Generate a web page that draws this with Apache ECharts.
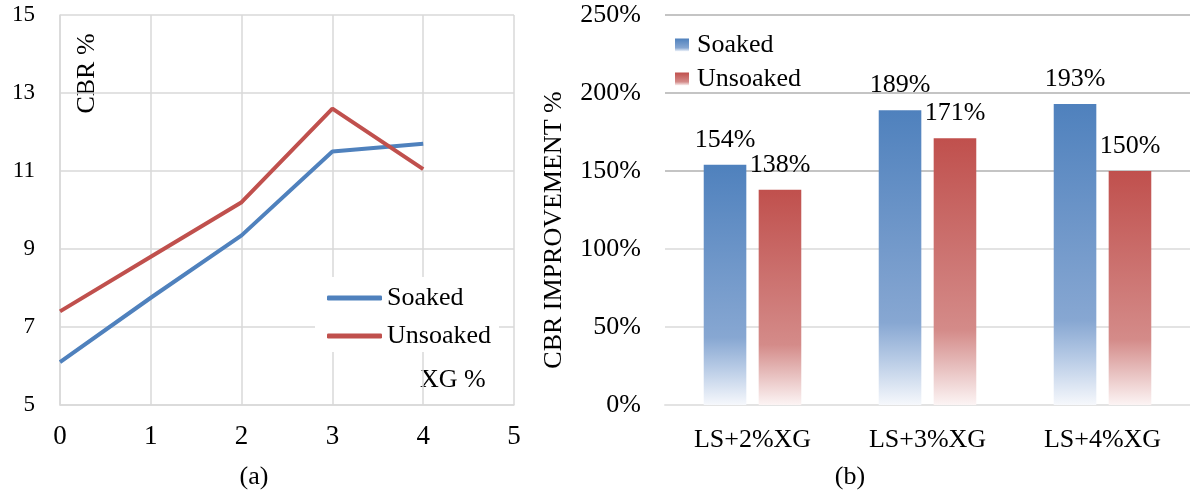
<!DOCTYPE html>
<html>
<head>
<meta charset="utf-8">
<script src="https://cdn.jsdelivr.net/npm/echarts@6/dist/echarts.min.js"></script>
<style>
html,body{margin:0;padding:0;background:#fff;}
#chart{width:1190px;height:491px;}
</style>
</head>
<body>
<div id="chart"></div>
<script>
// ---- data (a) ----
const xgPercent = [0, 1, 2, 3, 4];
const soakedCBR = [6.1, 7.75, 9.35, 11.5, 11.7];
const unsoakedCBR = [7.4, 8.8, 10.2, 12.6, 11.05];
const cbrTicks = { min: 5, max: 15, interval: 2 };
const xgTicks = { min: 0, max: 5, interval: 1 };
// ---- data (b) ----
const mixes = ['LS+2%XG', 'LS+3%XG', 'LS+4%XG'];
const soakedImprovement = [154, 189, 193];
const unsoakedImprovement = [138, 171, 150];
const improvementTicks = { min: 0, max: 250, interval: 50 };

const FONT = 'Liberation Serif';
const BLUE = '#4f81bd';
const RED = '#c0504d';
const grad = (stops) => ({ type: 'linear', x: 0, y: 0, x2: 0, y2: 1, global: false,
  colorStops: stops.map(s => ({ offset: s[0], color: s[1] })) });
const blueGrad = grad([[0, '#4f81bd'], [0.72, '#87a7d2'], [0.85, '#b9cce6'], [1, '#f6f8fc']]);
const redGrad = grad([[0, '#c0504d'], [0.72, '#d48b89'], [0.85, '#e6bcbb'], [1, '#fcf4f4']]);

const chart = echarts.init(document.getElementById('chart'), null, { renderer: 'canvas' });
const lightGrid = '#d9d9d9';

chart.setOption({
  animation: false,
  textStyle: { fontFamily: FONT, color: '#000' },
  grid: [
    { left: 60, top: 15, width: 454, height: 390, containLabel: false },
    { left: 665, top: 15, width: 538.5, height: 390, containLabel: false }
  ],
  xAxis: [
    {
      gridIndex: 0, type: 'value', min: xgTicks.min, max: xgTicks.max, interval: xgTicks.interval,
      axisLine: { show: true, lineStyle: { color: lightGrid, width: 1.5 } },
      axisTick: { show: false },
      axisLabel: { fontFamily: FONT, fontSize: 27, color: '#000', margin: 18 },
      splitLine: { show: true, lineStyle: { color: lightGrid, width: 1.5 } }
    },
    {
      gridIndex: 1, type: 'category', data: mixes,
      axisLine: { show: true, lineStyle: { color: '#e3e3e3', width: 2 } },
      axisTick: { show: false },
      axisLabel: { fontFamily: FONT, fontSize: 26, color: '#000', margin: 22 },
      splitLine: { show: false }
    }
  ],
  yAxis: [
    {
      gridIndex: 0, type: 'value', min: cbrTicks.min, max: cbrTicks.max, interval: cbrTicks.interval,
      axisLine: { show: true, lineStyle: { color: lightGrid, width: 1.5 } },
      axisTick: { show: false },
      axisLabel: { fontFamily: FONT, fontSize: 23, color: '#000', margin: 25, padding: [9, 0, 0, 0] },
      splitLine: { show: true, lineStyle: { color: lightGrid, width: 1.5 } }
    },
    {
      gridIndex: 1, type: 'value', min: improvementTicks.min, max: improvementTicks.max, interval: improvementTicks.interval,
      axisLine: { show: false },
      axisTick: { show: false },
      axisLabel: { fontFamily: FONT, fontSize: 26, color: '#000', margin: 24, padding: [8, 0, 0, 0], formatter: '{value}%' },
      splitLine: { show: true, lineStyle: { width: 2, color: ['#e3e3e3', '#e3e3e3', '#e3e3e3', '#c4c4c4', '#c4c4c4', '#c4c4c4'] } }
    }
  ],
  legend: [
    {
      data: ['Soaked', 'Unsoaked'], orient: 'vertical', left: 315, top: 277,
      backgroundColor: '#fff', padding: [8, 8, 3, 12], itemGap: 12,
      itemWidth: 55, itemHeight: 5, icon: 'roundRect',
      textStyle: { fontFamily: FONT, fontSize: 26, color: '#000', lineHeight: 26 }
    },
    {
      data: ['Soaked (b)', 'Unsoaked (b)'], orient: 'vertical', left: 675, top: 32,
      padding: 0, itemGap: 8, itemWidth: 14, itemHeight: 13, icon: 'rect',
      formatter: (name) => name.replace(' (b)', ''),
      textStyle: { fontFamily: FONT, fontSize: 26, color: '#000', lineHeight: 26, padding: [0, 0, 0, 3] }
    }
  ],
  series: [
    {
      name: 'Soaked', type: 'line', xAxisIndex: 0, yAxisIndex: 0, symbol: 'none',
      data: xgPercent.map((x, i) => [x, soakedCBR[i]]),
      lineStyle: { color: BLUE, width: 4 }, itemStyle: { color: BLUE }
    },
    {
      name: 'Unsoaked', type: 'line', xAxisIndex: 0, yAxisIndex: 0, symbol: 'none',
      data: xgPercent.map((x, i) => [x, unsoakedCBR[i]]),
      lineStyle: { color: RED, width: 4 }, itemStyle: { color: RED }
    },
    {
      name: 'Soaked (b)', type: 'bar', xAxisIndex: 1, yAxisIndex: 1,
      data: soakedImprovement, barWidth: 42.6, barGap: '29%',
      itemStyle: { color: blueGrad },
      label: { show: true, position: 'top', distance: 12, formatter: '{c}%', fontFamily: FONT, fontSize: 26, color: '#000' }
    },
    {
      name: 'Unsoaked (b)', type: 'bar', xAxisIndex: 1, yAxisIndex: 1,
      data: unsoakedImprovement, barWidth: 42.6, barGap: '29%',
      itemStyle: { color: redGrad },
      label: { show: true, position: 'top', distance: 12, formatter: '{c}%', fontFamily: FONT, fontSize: 26, color: '#000' }
    }
  ],
  graphic: [
    { type: 'text', x: 87, y: 73.5, rotation: Math.PI / 2,
      style: { text: 'CBR %', font: '26px "Liberation Serif"', fill: '#000', align: 'center', verticalAlign: 'middle' } },
    { type: 'text', x: 420, y: 380,
      style: { text: 'XG %', font: '26px "Liberation Serif"', fill: '#000', align: 'left', verticalAlign: 'middle' } },
    { type: 'text', x: 254, y: 477,
      style: { text: '(a)', font: '26px "Liberation Serif"', fill: '#000', align: 'center', verticalAlign: 'middle' } },
    { type: 'text', x: 554, y: 230, rotation: Math.PI / 2,
      style: { text: 'CBR IMPROVEMENT %', font: '26px "Liberation Serif"', fill: '#000', align: 'center', verticalAlign: 'middle' } },
    { type: 'text', x: 850, y: 477,
      style: { text: '(b)', font: '26px "Liberation Serif"', fill: '#000', align: 'center', verticalAlign: 'middle' } }
  ]
});
</script>
</body>
</html>
